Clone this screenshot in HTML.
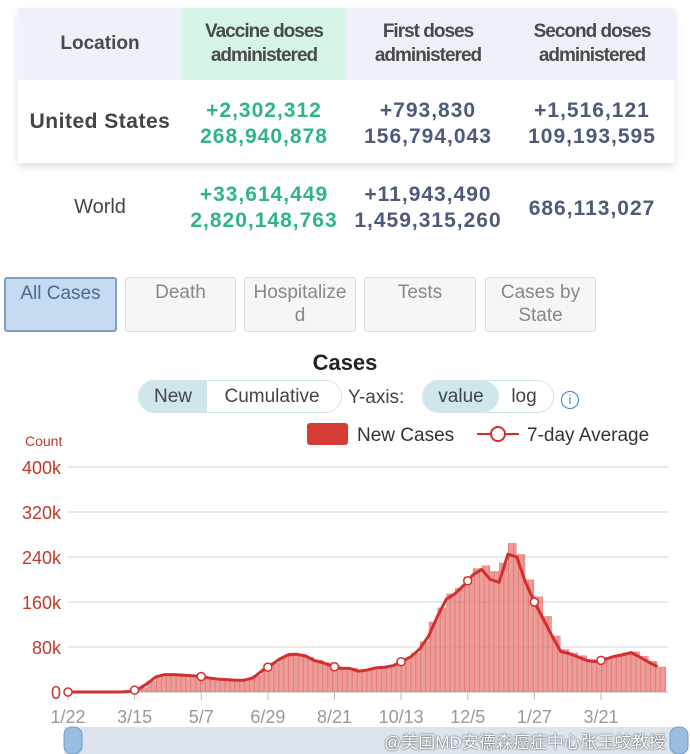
<!DOCTYPE html>
<html><head><meta charset="utf-8"><style>
body{margin:0;width:690px;height:754px;overflow:hidden;background:#fff;font-family:"Liberation Sans","Noto Sans CJK SC",sans-serif;position:relative}
.a{position:absolute}
.hd{font-weight:bold;font-size:19px;color:#4a4a4a;text-align:center;letter-spacing:-1px;line-height:24px}
.num{font-weight:bold;font-size:21px;text-align:center;line-height:26px;letter-spacing:1px}
.g{color:#2fb38c}.b{color:#4e5a7a}
.tab{position:absolute;top:277px;height:55px;border:1px solid #ddd;background:#f6f6f6;border-radius:3px;color:#888;font-size:19px;text-align:center;line-height:23px;box-sizing:border-box;padding-top:3px}
</style></head><body>
<div class="a" style="left:18px;top:8px;width:657px;height:155px;box-shadow:0 4px 8px rgba(0,0,0,.12);background:#fff"></div>
<div class="a" style="left:18px;top:8px;width:657px;height:72px;background:#eef1fa"></div>
<div class="a" style="left:182px;top:8px;width:164px;height:72px;background:#d5f6e6"></div>
<div class="a hd" style="left:18px;top:32px;width:164px;letter-spacing:0">Location</div>
<div class="a hd" style="left:182px;top:20px;width:164px">Vaccine doses<br>administered</div>
<div class="a hd" style="left:346px;top:20px;width:164px">First doses<br>administered</div>
<div class="a hd" style="left:510px;top:20px;width:164px">Second doses<br>administered</div>
<div class="a" style="left:18px;top:110px;width:164px;text-align:center;font-weight:bold;font-size:21px;color:#444;letter-spacing:.5px">United States</div>
<div class="a num" style="left:172px;top:98px;width:184px"><span class="g">+2,302,312<br>268,940,878</span></div>
<div class="a num b" style="left:336px;top:98px;width:184px">+793,830<br>156,794,043</div>
<div class="a num b" style="left:500px;top:98px;width:184px">+1,516,121<br>109,193,595</div>
<div class="a" style="left:18px;top:196px;width:164px;text-align:center;font-size:20px;color:#444">World</div>
<div class="a num g" style="left:180px;top:182px;width:168px;white-space:nowrap;overflow:hidden">+33,614,449<br>2,820,148,763</div>
<div class="a num b" style="left:346px;top:182px;width:164px;white-space:nowrap;overflow:hidden;direction:rtl"><span style="direction:ltr;unicode-bidi:embed">+11,943,490</span><br>1,459,315,260</div>
<div class="a num b" style="left:500px;top:196px;width:184px">686,113,027</div>

<div class="tab" style="left:4px;width:113px;background:#c6dbf2;border:2px solid #7d9fc4;color:#4a6a90">All Cases</div>
<div class="tab" style="left:125px;width:111px">Death</div>
<div class="tab" style="left:244px;width:112px">Hospitalize<br>d</div>
<div class="tab" style="left:364px;width:112px">Tests</div>
<div class="tab" style="left:485px;width:111px">Cases by<br>State</div>

<div class="a" style="left:0;width:690px;top:350px;text-align:center;font-weight:bold;font-size:22px;color:#222">Cases</div>
<div class="a" style="left:138px;top:380px;width:204px;height:33px;border:1px solid #d0e4e8;border-radius:17px;box-sizing:border-box;overflow:hidden;font-size:19px;color:#444;line-height:31px">
<span style="display:inline-block;width:68px;background:#cfe6eb;text-align:center">New</span><span style="display:inline-block;width:130px;text-align:center">Cumulative</span></div>
<div class="a" style="left:348px;top:387px;font-size:19px;color:#444">Y-axis:</div>
<div class="a" style="left:422px;top:380px;width:132px;height:33px;border:1px solid #d0e4e8;border-radius:17px;box-sizing:border-box;overflow:hidden;font-size:19px;color:#444;line-height:31px">
<span style="display:inline-block;width:76px;background:#cfe6eb;text-align:center;border-radius:17px">value</span><span style="display:inline-block;width:50px;text-align:center">log</span></div>
<div class="a" style="left:561px;top:391px;width:16px;height:16px;border:1.5px solid #3b7fd0;border-radius:50%;color:#3b7fd0;font-size:13px;text-align:center;line-height:16px">i</div>

<svg class="a" style="left:0;top:0" width="690" height="754" id="chart"></svg>
<div class="a" style="left:384px;top:728px;font-size:17px;color:#fff;text-shadow:0 0 2px #666,0 0 1px #333">@美国MD安德森癌症中心张玉蛟教授</div>
<script>
const yTicks=[0,80000,160000,240000,320000,400000];
const yTickLabels=["0","80k","160k","240k","320k","400k"];
const xTickLabels=["1/22","3/15","5/7","6/29","8/21","10/13","12/5","1/27","3/21"];
const xTickDays=[0,53,106,159,212,265,318,371,424];
// weekly values (thousands) starting 1/22/2020
const avgK=[0,0,0,0,0,0,0,1,5,15,27,31,31,30,29,28,25,23,22,21,21,25,37,47,58,66,67,64,56,52,46,42,42,37,39,43,44,47,55,63,77,100,135,165,175,190,208,218,200,195,245,240,195,160,130,100,72,68,62,56,54,58,63,66,70,62,53,45];
const barK=[0,0,0,0,0,0,0,2,8,20,30,33,32,31,30,27,26,24,23,22,23,30,42,52,62,70,68,62,57,53,47,44,43,40,42,45,47,50,60,70,90,125,150,175,185,205,220,225,215,230,265,245,200,170,135,100,76,70,65,58,57,62,66,70,72,64,55,45];
const svg=document.getElementById('chart');const NS='http://www.w3.org/2000/svg';
const X0=68,PX=1.257,Y0=692,YS=225/400000;
const xs=d=>X0+d*PX, ys=v=>Y0-v*YS;
function mk(t,a,p){const e=document.createElementNS(NS,t);for(const k in a)e.setAttribute(k,a[k]);(p||svg).appendChild(e);return e;}
let t=mk('text',{x:25,y:446,fill:'#c0392b','font-size':14});t.textContent='Count';


yTicks.forEach((v,i)=>{const l=mk('line',{x1:68,x2:668,y1:ys(v),y2:ys(v),stroke:i?'#e3e3e3':'#ccc','stroke-width':1.5});


const tx=mk('text',{x:61,y:ys(v)+7,fill:'#c0392b','font-size':18,'text-anchor':'end'});tx.textContent=yTickLabels[i];

});
xTickDays.forEach((d,i)=>{mk('line',{x1:xs(d),x2:xs(d),y1:692,y2:700,stroke:'#bbb'});
const tx=mk('text',{x:xs(d),y:723,fill:'#999','font-size':18,'text-anchor':'middle'});tx.textContent=xTickLabels[i];

});
barK.forEach((v,i)=>{const x=xs(i*7);for(let j=0;j<7;j++){const r=mk('rect',{x:x+j*PX,y:ys(v*1000),width:PX*0.8,height:Y0-ys(v*1000),fill:'#e57b76'});

}});
const pts=avgK.map((v,i)=>xs(i*7)+','+ys(v*1000)).join(' ');
const pl=mk('polyline',{points:pts,fill:'none',stroke:'#d32f2f','stroke-width':3,'stroke-linejoin':'round'});


xTickDays.forEach(d=>{const w=d/7,i=Math.floor(w),f=w-i;const v=avgK[i]*(1-f)+(avgK[i+1]||avgK[i])*f;
const c=mk('circle',{cx:xs(d),cy:ys(v*1000),r:4,fill:'#fff',stroke:'#d32f2f','stroke-width':1.5});

});
// legend
let lr=mk('rect',{x:307,y:423,width:41,height:22,rx:3,fill:'#d63b36'});


let lt=mk('text',{x:357,y:441,'font-size':19,fill:'#333'});lt.textContent='New Cases';


mk('line',{x1:477,x2:519,y1:434,y2:434,stroke:'#d32f2f','stroke-width':2});
mk('circle',{cx:498,cy:434,r:7,fill:'#fff',stroke:'#d32f2f','stroke-width':2});
let la=mk('text',{x:527,y:441,'font-size':19,fill:'#333'});la.textContent='7-day Average';


// slider
let sl=mk('rect',{x:64,y:727,width:614,height:27,fill:'#dde4ee'});


[64,670].forEach(x=>{const h=mk('rect',{x:x,y:727,width:18,height:27,rx:8,fill:'#9bbde0',stroke:'#6f9cc9'});

});
</script>
</body></html>
